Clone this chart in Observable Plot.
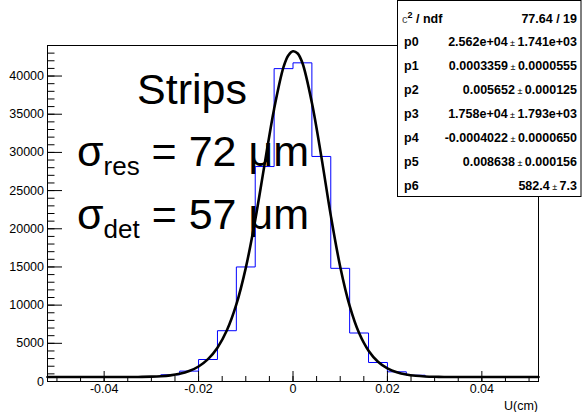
<!DOCTYPE html>
<html><head><meta charset="utf-8">
<script src="https://cdn.jsdelivr.net/npm/d3@7"></script>
<script src="https://cdn.jsdelivr.net/npm/@observablehq/plot@0.6"></script>
<style>
html,body{margin:0;padding:0;background:#fff;}
#chart{position:relative;width:583px;height:412px;}
svg text{white-space:pre;}
</style></head><body><div id="chart"></div>
<script>
// Histogram bins (left edges, width 0.004 cm) and counts
const binLefts = [-0.052,-0.048,-0.044,-0.040,-0.036,-0.032,-0.028,-0.024,-0.020,-0.016,-0.012,-0.008,-0.004,
                  0.000,0.004,0.008,0.012,0.016,0.020,0.024,0.028,0.032,0.036,0.040,0.044,0.048];
const binCounts = [575,585,580,595,605,650,880,1360,2880,6650,15000,28150,40970,
                   41730,29470,14820,6350,2490,1270,820,640,600,590,580,585,575];
const binWidth = 0.004;

// Fit curve
const fitX = [-0.052,-0.046,-0.040,-0.036,-0.034,-0.032,-0.030,-0.028,-0.026,-0.024,-0.022,-0.020,-0.018,-0.016,-0.014,-0.012,-0.010,-0.008,-0.006,-0.004,-0.002,-0.001,
              0.000,0.001,0.002,0.004,0.006,0.008,0.010,0.012,0.014,0.016,0.018,0.020,0.022,0.024,0.026,0.028,0.030,0.032,0.034,0.036,0.040,0.046,0.052];
const fitY = [582,582,583,586,591,604,632,689,800,1005,1364,1962,2922,4419,6700,10086,14879,21156,28500,35700,41200,42700,
              43250,42950,41700,36500,29449,21753,15035,9901,6340,4032,2594,1723,1208,911,747,661,618,597,588,584,582,582,582];

// Axis ticks
const xMajorTicks = [-0.04,-0.02,0,0.02,0.04];
const xMinorTicks = [-0.05,-0.045,-0.04,-0.035,-0.03,-0.025,-0.02,-0.015,-0.01,-0.005,0,0.005,0.01,0.015,0.02,0.025,0.03,0.035,0.04,0.045,0.05];
const yMajorTicks = [0,5000,10000,15000,20000,25000,30000,35000,40000];
const yMinorTicks = [0,1000,2000,3000,4000,5000,6000,7000,8000,9000,10000,11000,12000,13000,14000,15000,16000,17000,18000,19000,20000,
                     21000,22000,23000,24000,25000,26000,27000,28000,29000,30000,31000,32000,33000,34000,35000,36000,37000,38000,39000,40000,41000,42000,43000];
const xLabel = "U(cm)";

// Stat box
const chi2Text = "77.64 / 19";
const statLabels = ["p0","p1","p2","p3","p4","p5","p6"];
const statValues = ["2.562e+04","0.0003359","0.005652","1.758e+04","-0.0004022","0.008638","582.4"];
const statErrors = ["1.741e+03","0.0000555","0.000125","1.793e+03","0.0000650","0.000156","7.3"];

// Annotations
const titleText = "Strips";
const resSub = "res", resText = " = 72 μm";
const detSub = "det", detText = " = 57 μm";

const histSteps = [{x: binLefts[0], y: 0}]
  .concat(binLefts.map((l, i) => ({x: l, y: binCounts[i]})))
  .concat([{x: binLefts[binLefts.length-1] + binWidth, y: binCounts[binCounts.length-1]},
           {x: binLefts[binLefts.length-1] + binWidth, y: 0}]);
const fitPts = fitX.map((x, i) => ({x, y: fitY[i]}));

const font = "'Liberation Sans', Arial, Helvetica, sans-serif";

const plot = Plot.plot({
  width: 583, height: 412,
  marginLeft: 47, marginRight: 45, marginTop: 45, marginBottom: 31,
  style: {fontFamily: font, fontSize: "12.5px", background: "#fff", color: "#000", overflow: "visible"},
  x: {domain: [-0.052, 0.052]},
  y: {domain: [0, 44000]},
  marks: [
    Plot.line(histSteps, {x: "x", y: "y", curve: "step-after", stroke: "#0000ff", strokeWidth: 1}),
    Plot.line(fitPts, {x: "x", y: "y", curve: "catmull-rom", stroke: "#000", strokeWidth: 2.6}),
    Plot.frame({stroke: "#000", strokeWidth: 1}),
    Plot.axisX({ticks: xMinorTicks, tickSize: -5, tickFormat: () => "", label: null}),
    Plot.axisX({ticks: xMajorTicks, tickSize: -10, tickFormat: () => "", label: null}),
    Plot.axisX({ticks: xMajorTicks, tickSize: 0, tickPadding: 3, tickFormat: d => String(d), label: null}),
    Plot.axisY({ticks: yMinorTicks, tickSize: -7.5, tickFormat: () => "", label: null}),
    Plot.axisY({ticks: yMajorTicks, tickSize: -15, tickFormat: () => "", label: null}),
    Plot.axisY({ticks: yMajorTicks, tickSize: 0, tickPadding: 3.5, tickFormat: d => String(d), label: null})
  ]
});
document.getElementById("chart").appendChild(plot);

const svg = d3.select(plot);
// x-axis title
svg.append("text").attr("x", 538).attr("y", 410).attr("text-anchor", "end")
  .attr("font-family", font).attr("font-size", 12.5).attr("fill", "#000").text(xLabel);

// big annotations
const ann = svg.append("g").attr("font-family", font).attr("fill", "#000").attr("text-anchor", "start");
ann.append("text").attr("x", 137).attr("y", 104).attr("text-anchor", "start").attr("font-size", 43).text(titleText);
function sigmaLine(y, sub, rest) {
  const t = ann.append("text").attr("x", 77).attr("y", y).attr("text-anchor", "start").attr("font-size", 43);
  t.append("tspan").text("σ");
  t.append("tspan").attr("font-size", 26).attr("dy", 9).text(sub);
  t.append("tspan").attr("font-size", 43).attr("dy", -9).text(rest);
}
sigmaLine(166, resSub, resText);
sigmaLine(229, detSub, detText);

// stat box
const box = svg.append("g").attr("font-family", font).attr("fill", "#000").attr("text-anchor", "start");
box.append("rect").attr("x", 397.5).attr("y", 0.5).attr("width", 183.5).attr("height", 196)
  .attr("fill", "#fff").attr("stroke", "#000").attr("stroke-width", 1);
const rowY = i => 22.5 + 23.9 * i;
const c2 = box.append("text").attr("x", 402).attr("y", rowY(0)).attr("text-anchor", "start")
  .attr("font-size", 12.5).attr("font-weight", "bold");
c2.append("tspan").attr("font-weight", "normal").attr("fill", "#444").attr("font-size", 11).text("c");
c2.append("tspan").attr("font-size", 9).attr("dy", -5).text("2");
c2.append("tspan").attr("dy", 5).text(" / ndf");
box.append("text").attr("x", 577).attr("y", rowY(0)).attr("text-anchor", "end")
  .attr("font-size", 12.5).attr("font-weight", "bold").text(chi2Text);
statLabels.forEach((lab, i) => {
  box.append("text").attr("x", 404).attr("y", rowY(i + 1)).attr("text-anchor", "start")
    .attr("font-size", 12.5).attr("font-weight", "bold").text(lab);
  const t = box.append("text").attr("x", 577).attr("y", rowY(i + 1)).attr("text-anchor", "end")
    .attr("font-size", 12.5).attr("font-weight", "bold");
  t.append("tspan").text(statValues[i]);
  t.append("tspan").attr("font-weight", "normal").attr("font-size", 9).text(" ± ");
  t.append("tspan").text(statErrors[i]);
});
</script></body></html>
